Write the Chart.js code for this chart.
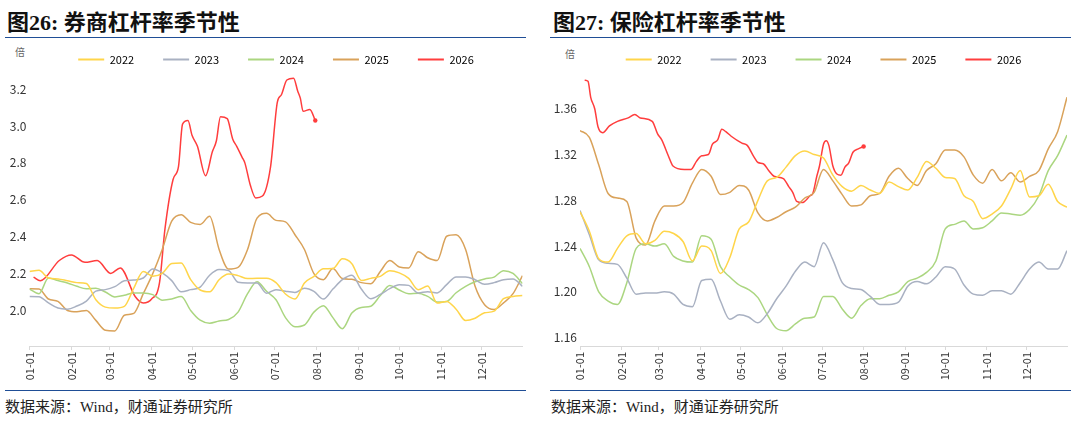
<!DOCTYPE html>
<html>
<head>
<meta charset="utf-8">
<script src="https://cdn.jsdelivr.net/npm/chart.js@4.4.1/dist/chart.umd.min.js"></script>
<style>
  body { margin: 0; width: 1080px; height: 427px; background: #fff; position: relative; overflow: hidden; }
  .title { position: absolute; top: 12px; font: bold 22px/22px "Liberation Serif", "Noto Sans CJK SC"; color: #111; white-space: nowrap; }
  .rule { position: absolute; height: 0; border-top: 1.5px solid #1f4e96; }
  .unit { position: absolute; top: 47px; font: 10px/10px "Noto Sans CJK SC"; color: #666; }
  .src { position: absolute; top: 400px; font: 15px/15px "Liberation Serif", "Noto Sans CJK SC"; color: #222; white-space: nowrap; }
  .box { position: absolute; top: 25px; width: 540px; height: 360px; }
</style>
</head>
<body>
<div class="title" style="left:7px">图26: 券商杠杆率季节性</div>
<div class="title" style="left:553px">图27: 保险杠杆率季节性</div>
<div class="rule" style="left:5px;width:521px;top:37px"></div>
<div class="rule" style="left:550px;width:521px;top:37px"></div>
<div class="unit" style="left:15px">倍</div>
<div class="unit" style="left:565px;top:49px">倍</div>
<div class="box" style="left:0"><canvas id="brokerChart"></canvas></div>
<div class="box" style="left:540px"><canvas id="insurerChart"></canvas></div>
<div class="rule" style="left:5px;width:521px;top:390px"></div>
<div class="rule" style="left:550px;width:521px;top:390px"></div>
<div class="src" style="left:5px">数据来源：Wind，财通证券研究所</div>
<div class="src" style="left:551px">数据来源：Wind，财通证券研究所</div>

<script>
// 年份与颜色
const yearLabels = ["2022", "2023", "2024", "2025", "2026"];
const yearColors = ["#ffd54a", "#a9b1c2", "#abd680", "#d9a25a", "#ff3d3d"];

// x 轴：一年中的第几天，月初刻度
const monthDays = [0, 31, 59, 90, 120, 151, 181, 212, 243, 273, 304, 334];
const monthLabels = ["01-01", "02-01", "03-01", "04-01", "05-01", "06-01",
                     "07-01", "08-01", "09-01", "10-01", "11-01", "12-01"];

// 每周取一个读数（2022-2025）
const weekDays = [0, 7, 14, 21, 28, 35, 42, 49, 56, 63, 70, 77, 84, 91, 98, 105, 112, 119,
                  126, 133, 140, 147, 154, 161, 168, 175, 182, 189, 196, 203, 210, 217, 224,
                  231, 238, 245, 252, 259, 266, 273, 280, 287, 294, 301, 308, 315, 322, 329,
                  336, 343, 350, 357, 364];

// 券商杠杆率（倍）
const broker2022 = [2.21, 2.217, 2.175, 2.17, 2.16, 2.15, 2.145, 2.057, 2.017, 2.012, 2.021, 2.12, 2.21,
                    2.185, 2.20, 2.254, 2.257, 2.166, 2.11, 2.10, 2.166, 2.197, 2.188, 2.172, 2.174, 2.174,
                    2.15, 2.088, 2.061, 2.148, 2.184, 2.225, 2.226, 2.279, 2.253, 2.162, 2.173, 2.184,
                    2.215, 2.203, 2.173, 2.112, 2.132, 2.039, 2.048, 2.006, 1.944, 1.957, 1.986, 1.995,
                    2.063, 2.075, 2.08];
const broker2023 = [2.075, 2.074, 2.04, 2.012, 2.006, 2.023, 2.05, 2.104, 2.112, 2.128, 2.16, 2.164, 2.175,
                    2.224, 2.203, 2.161, 2.10, 2.112, 2.126, 2.19, 2.221, 2.215, 2.152, 2.148, 2.148, 2.093,
                    2.112, 2.103, 2.097, 2.12, 2.103, 2.061, 2.115, 2.166, 2.19, 2.115, 2.063, 2.086, 2.117,
                    2.139, 2.135, 2.094, 2.101, 2.094, 2.139, 2.181, 2.181, 2.166, 2.141, 2.15, 2.166,
                    2.17, 2.13];
const broker2024 = [2.115, 2.09, 2.175, 2.161, 2.148, 2.13, 2.117, 2.119, 2.099, 2.072, 2.081, 2.094, 2.094,
                    2.085, 2.055, 2.061, 2.075, 1.999, 1.946, 1.93, 1.942, 1.95, 1.99, 2.09, 2.155, 2.103,
                    2.057, 1.96, 1.91, 1.92, 1.99, 2.025, 1.96, 1.90, 1.985, 2.015, 2.022, 2.08, 2.135,
                    2.11, 2.09, 2.093, 2.075, 2.045, 2.048, 2.095, 2.13, 2.155, 2.17, 2.18, 2.215, 2.20,
                    2.145];
const broker2025 = [2.117, 2.115, 2.061, 2.048, 1.999, 1.992, 1.999, 1.945, 1.892, 1.888, 1.973, 1.983, 2.09,
                    2.199, 2.33, 2.484, 2.519, 2.477, 2.466, 2.51, 2.33, 2.224, 2.233, 2.33, 2.50, 2.526,
                    2.488, 2.48, 2.41, 2.33, 2.199, 2.166, 2.226, 2.172, 2.168, 2.15, 2.144, 2.21, 2.27,
                    2.235, 2.23, 2.318, 2.285, 2.27, 2.402, 2.41, 2.33, 2.13, 2.03, 2.004, 2.04, 2.09,
                    2.188];
// 2026 截至 08-01
const brokerDays2026 = [3, 8, 22, 31, 41, 50, 60, 67, 78, 84, 90, 96, 100, 106, 110, 113, 117, 120, 124,
                        130, 135, 138, 141, 146, 150, 153, 157, 159, 163, 167, 172, 178, 183, 186, 190,
                        195, 198, 200, 202, 207, 211];
const broker2026 = [2.18, 2.16, 2.27, 2.30, 2.26, 2.27, 2.20, 2.23, 2.075, 2.04, 2.06, 2.15, 2.44, 2.71,
                    2.78, 3.01, 3.03, 2.95, 2.89, 2.73, 2.86, 2.92, 3.05, 3.04, 2.93, 2.89, 2.83, 2.80,
                    2.68, 2.61, 2.62, 2.78, 3.13, 3.17, 3.25, 3.26, 3.19, 3.15, 3.08, 3.09, 3.03];

// 保险杠杆率（倍）
const insurer2022 = [1.27, 1.253, 1.229, 1.226, 1.238, 1.249, 1.251, 1.242, 1.245, 1.253, 1.251, 1.244,
                     1.227, 1.240, 1.236, 1.216, 1.230, 1.255, 1.261, 1.280, 1.297, 1.300, 1.309, 1.319,
                     1.323, 1.320, 1.317, 1.302, 1.292, 1.288, 1.293, 1.289, 1.286, 1.296, 1.292, 1.289,
                     1.300, 1.314, 1.308, 1.300, 1.299, 1.284, 1.279, 1.264, 1.268, 1.275, 1.290, 1.306,
                     1.283, 1.284, 1.294, 1.279, 1.274];
const insurer2023 = [1.271, 1.250, 1.228, 1.225, 1.224, 1.212, 1.198, 1.199, 1.199, 1.200, 1.198, 1.189,
                     1.187, 1.210, 1.211, 1.192, 1.176, 1.180, 1.178, 1.173, 1.181, 1.194, 1.205, 1.218,
                     1.226, 1.222, 1.243, 1.228, 1.208, 1.203, 1.202, 1.196, 1.189, 1.189, 1.191, 1.205,
                     1.209, 1.207, 1.213, 1.222, 1.220, 1.206, 1.198, 1.197, 1.201, 1.201, 1.198, 1.208,
                     1.220, 1.226, 1.220, 1.220, 1.236];
const insurer2024 = [1.238, 1.222, 1.200, 1.192, 1.189, 1.208, 1.238, 1.242, 1.240, 1.242, 1.231, 1.227,
                     1.226, 1.249, 1.246, 1.222, 1.213, 1.206, 1.202, 1.195, 1.180, 1.168, 1.166, 1.172,
                     1.177, 1.178, 1.196, 1.196, 1.185, 1.177, 1.188, 1.194, 1.194, 1.197, 1.200, 1.209,
                     1.212, 1.217, 1.227, 1.255, 1.259, 1.262, 1.255, 1.256, 1.262, 1.269, 1.268, 1.267,
                     1.272, 1.284, 1.306, 1.319, 1.337];
const insurer2025 = [1.341, 1.335, 1.311, 1.286, 1.282, 1.279, 1.247, 1.241, 1.262, 1.275, 1.275, 1.278,
                     1.295, 1.307, 1.301, 1.285, 1.287, 1.293, 1.289, 1.269, 1.262, 1.265, 1.270, 1.274,
                     1.282, 1.287, 1.307, 1.297, 1.285, 1.275, 1.276, 1.284, 1.286, 1.301, 1.308, 1.299,
                     1.293, 1.306, 1.312, 1.324, 1.324, 1.318, 1.302, 1.295, 1.307, 1.297, 1.304, 1.296,
                     1.301, 1.306, 1.325, 1.340, 1.370];
const insurerDays2026 = [3.5, 6, 8, 11, 13.5, 17, 22, 28, 36, 41, 45, 54, 58, 61, 66, 69.5, 78, 83, 87,
                         91, 96, 99, 103, 106, 109, 113, 121, 125, 130, 133, 137, 141, 145, 152, 156,
                         159, 162, 166, 172, 174, 177, 179, 182, 184, 186, 189, 192, 195, 198, 201, 204,
                         208, 212];
const insurer2026 = [1.385, 1.384, 1.370, 1.360, 1.344, 1.339, 1.345, 1.349, 1.352, 1.355, 1.352, 1.349,
                     1.338, 1.333, 1.319, 1.310, 1.307, 1.307, 1.314, 1.319, 1.320, 1.329, 1.333, 1.342,
                     1.340, 1.336, 1.330, 1.328, 1.318, 1.313, 1.312, 1.306, 1.301, 1.299, 1.292, 1.287,
                     1.279, 1.278, 1.284, 1.286, 1.301, 1.310, 1.329, 1.332, 1.328, 1.310, 1.303, 1.302,
                     1.309, 1.313, 1.322, 1.325, 1.327];

// y 轴刻度
const brokerTicks = [2.0, 2.2, 2.4, 2.6, 2.8, 3.0, 3.2];
const insurerTicks = [1.16, 1.20, 1.24, 1.28, 1.32, 1.36];

const fontFamily = '"Noto Sans CJK SC", "Noto Sans", sans-serif';

function toPoints(days, values) {
    return values.map((v, i) => ({ x: days[i], y: v }));
}

function buildDatasets(seriesList, lastDays) {
    return seriesList.map((values, i) => {
        const days = i === 4 ? lastDays : weekDays;
        const isLast = i === 4;
        return {
            label: yearLabels[i],
            data: toPoints(days, values),
            borderColor: yearColors[i],
            backgroundColor: yearColors[i],
            borderWidth: 1.5,
            cubicInterpolationMode: "monotone",
            pointRadius: ctx => (isLast && ctx.dataIndex === values.length - 1) ? 2.2 : 0,
            pointBorderWidth: 0,
            pointBackgroundColor: yearColors[i]
        };
    });
}

// 两张图共用的配置
function buildOptions(yMin, yMax, yTicks, digits, yWidth, rightPad) {
    return {
        responsive: true,
        maintainAspectRatio: false,
        animation: false,
        layout: { padding: { left: 0, right: rightPad, top: 0, bottom: 0 } },
        plugins: {
            tooltip: { enabled: false },
            legend: {
                display: true,
                position: "top",
                fullSize: false,
                labels: {
                    boxWidth: 26,
                    boxHeight: 2,
                    padding: 29,
                    color: "#404040",
                    font: { family: fontFamily, size: 11 },
                    generateLabels: chart => chart.data.datasets.map((ds, i) => ({
                        text: ds.label,
                        fillStyle: ds.borderColor,
                        strokeStyle: ds.borderColor,
                        lineWidth: 0,
                        hidden: false,
                        datasetIndex: i
                    }))
                }
            }
        },
        scales: {
            x: {
                type: "linear",
                min: 0,
                max: 364,
                afterBuildTicks: s => { s.ticks = monthDays.map(v => ({ value: v })); },
                afterFit: s => { s.height = 39; },
                ticks: {
                    autoSkip: false,
                    minRotation: 90,
                    maxRotation: 90,
                    padding: 2,
                    color: "#333",
                    font: { family: fontFamily, size: 11 },
                    callback: v => monthLabels[monthDays.indexOf(v)]
                },
                grid: { drawOnChartArea: false, tickLength: 4, color: "#d9d9d9" },
                border: { color: "#d9d9d9" }
            },
            y: {
                min: yMin,
                max: yMax,
                afterBuildTicks: s => { s.ticks = yTicks.map(v => ({ value: v })); },
                afterFit: s => { s.width = yWidth; },
                ticks: {
                    padding: 3,
                    color: "#333",
                    font: { family: fontFamily, size: 12 },
                    callback: v => v.toFixed(digits)
                },
                grid: { display: false, drawTicks: false },
                border: { display: false }
            }
        }
    };
}

new Chart(document.getElementById("brokerChart").getContext("2d"), {
    type: "line",
    data: { datasets: buildDatasets([broker2022, broker2023, broker2024, broker2025, broker2026], brokerDays2026) },
    options: buildOptions(1.806, 3.277, brokerTicks, 1, 29.5, 17.5)
});

new Chart(document.getElementById("insurerChart").getContext("2d"), {
    type: "line",
    data: { datasets: buildDatasets([insurer2022, insurer2023, insurer2024, insurer2025, insurer2026], insurerDays2026) },
    options: buildOptions(1.1527, 1.3895, insurerTicks, 2, 40, 13)
});
</script>
</body>
</html>
